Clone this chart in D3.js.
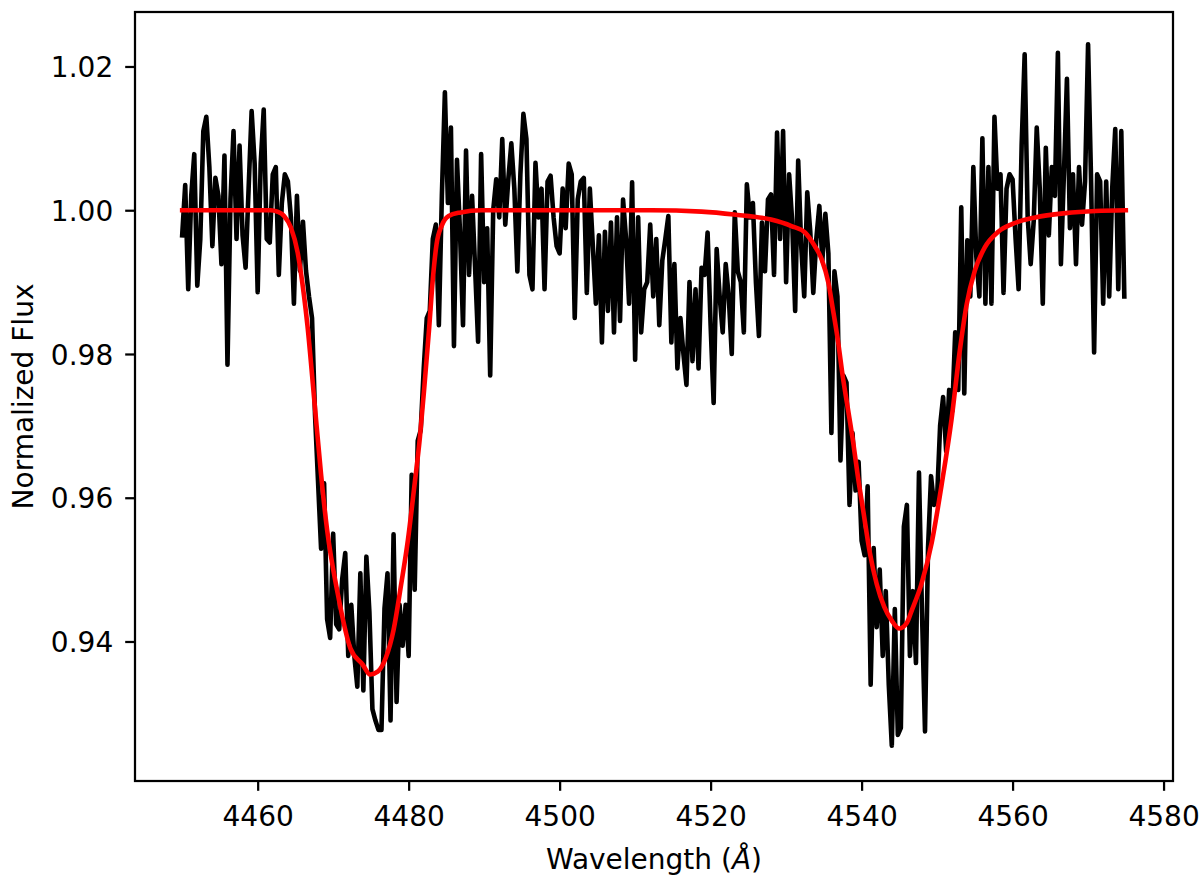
<!DOCTYPE html>
<html><head><meta charset="utf-8">
<script src="https://cdn.jsdelivr.net/npm/d3@7"></script>
<style>html,body{margin:0;padding:0;background:#fff;} svg{display:block;}</style>
</head><body>
<svg id="chart" width="1200" height="884"></svg>
<script>
const waveStart = 4450, waveStep = 0.4;
const flux = [
0.9965,1.0035,0.9890,1.0020,1.0078,0.9895,0.9960,1.0110,1.0130,1.0060,
0.9950,1.0045,1.0020,0.9925,1.0076,0.9785,1.0015,1.0110,0.9960,1.0090,
0.9965,0.9920,1.0030,1.0138,1.0065,0.9886,1.0065,1.0140,0.9960,0.9955,
1.0050,1.0060,0.9910,1.0010,1.0050,1.0040,0.9990,0.9870,1.0020,0.9916,
0.9984,0.9916,0.9880,0.9850,0.9715,0.9622,0.9529,0.9620,0.9431,0.9405,
0.9550,0.9424,0.9417,0.9487,0.9523,0.9380,0.9451,0.9380,0.9337,0.9495,
0.9332,0.9518,0.9441,0.9306,0.9290,0.9277,0.9277,0.9446,0.9495,0.9290,
0.9549,0.9316,0.9451,0.9394,0.9451,0.9380,0.9632,0.9472,0.9679,0.9694,
0.9780,0.9850,0.9860,0.9960,0.9980,0.9840,1.0020,1.0164,1.0010,1.0115,
0.9811,1.0070,0.9970,0.9840,1.0083,0.9910,1.0020,0.9920,0.9817,1.0078,
0.9900,0.9975,0.9770,1.0000,1.0043,0.9990,1.0099,0.9980,1.0043,1.0093,
1.0030,0.9915,1.0050,1.0134,1.0099,0.9910,0.9890,1.0066,0.9990,1.0030,
0.9890,1.0040,1.0048,0.9990,0.9950,0.9940,1.0030,0.9975,1.0065,1.0050,
0.9850,1.0015,1.0040,1.0045,0.9885,1.0030,0.9950,0.9870,0.9965,0.9816,
0.9970,0.9860,0.9983,0.9830,0.9990,0.9846,1.0015,0.9960,0.9870,1.0039,
0.9792,0.9990,0.9830,0.9890,0.9900,0.9980,0.9880,0.9960,0.9840,0.9930,
0.9960,0.9992,0.9816,0.9925,0.9780,0.9850,0.9800,0.9757,0.9900,0.9790,
0.9890,0.9780,0.9920,0.9910,0.9969,0.9840,0.9732,0.9946,0.9880,0.9830,
0.9925,0.9880,0.9800,0.9997,0.9915,0.9900,0.9830,1.0036,0.9990,1.0010,
0.9900,0.9825,0.9983,0.9915,1.0015,1.0022,0.9910,1.0108,0.9960,1.0110,
0.9900,1.0050,0.9985,0.9860,1.0069,0.9950,0.9880,1.0025,0.9970,0.9885,
0.9960,1.0006,0.9930,0.9995,0.9940,0.9690,0.9915,0.9880,0.9652,0.9770,
0.9760,0.9590,0.9690,0.9610,0.9650,0.9540,0.9520,0.9616,0.9340,0.9530,
0.9420,0.9500,0.9380,0.9470,0.9340,0.9255,0.9445,0.9270,0.9280,0.9560,
0.9590,0.9380,0.9470,0.9370,0.9635,0.9440,0.9275,0.9530,0.9630,0.9590,
0.9600,0.9700,0.9740,0.9665,0.9750,0.9720,0.9830,0.9750,1.0004,0.9745,
0.9958,0.9880,1.0060,0.9935,0.9880,1.0100,0.9870,1.0060,0.9870,1.0130,
1.0030,1.0050,0.9885,1.0030,1.0050,1.0043,0.9960,0.9890,1.0090,1.0217,
0.9990,0.9925,0.9985,1.0115,1.0030,0.9870,1.0087,0.9965,1.0060,1.0020,
1.0219,0.9925,1.0050,1.0183,0.9975,1.0050,0.9925,1.0060,0.9980,1.0040,
1.0231,1.0040,0.9802,1.0050,1.0040,0.9870,1.0040,0.9880,1.0030,1.0113,
0.9890,1.0110,0.9880
];

// Fitted model (red curve)
const fitWave = [4450,4455,4460,4461.7,4462.6,4463.5,4464.4,4465.3,4465.7,4466.6,
  4467.5,4468.4,4469.2,4470.6,4472.3,4473.9,4474.9,4475.9,4477.0,4478.0,
  4479.0,4479.9,4480.7,4481.5,4482.1,4482.7,4483.2,4483.7,4484.4,4485.3,
  4486.9,4489.6,4495,4500,4505,4512.1,4518.8,4523.1,4528.0,4530.7,
  4532.5,4533.8,4534.7,4535.6,4536.2,4536.9,4537.5,4538.2,4538.9,4539.5,
  4540.2,4541.1,4542.0,4543.0,4544.0,4545.0,4546.0,4546.6,4547.9,4549.3,
  4550.6,4551.9,4553.0,4553.9,4555.0,4556.3,4558.1,4560.0,4563.0,4567.0,
  4571.0,4575.0];
const fitFlux = [1.0000,1.0000,1.0000,1.0000,0.9998,0.9992,0.9976,0.9941,0.9915,0.9839,
  0.9736,0.9632,0.9555,0.9467,0.9390,0.9368,0.9354,0.9358,0.9378,0.9416,
  0.9479,0.9541,0.9611,0.9685,0.9757,0.9834,0.9904,0.9953,0.9979,0.9992,
  0.9997,1.0000,1.0000,1.0000,1.0000,1.0000,0.9998,0.9994,0.9987,0.9978,
  0.9969,0.9950,0.9932,0.9899,0.9862,0.9816,0.9769,0.9723,0.9676,0.9630,
  0.9583,0.9523,0.9480,0.9448,0.9429,0.9418,0.9426,0.9442,0.9479,0.9538,
  0.9618,0.9708,0.9804,0.9868,0.9916,0.9948,0.9970,0.9981,0.9990,0.9996,
  0.9999,1.0000];

const xTicks = [4460,4480,4500,4520,4540,4560,4580];
const yTicks = [0.94,0.96,0.98,1.00,1.02];
const xDomain = [4443.75, 4581.25];
const yDomain = [0.92059, 1.02758];

const m = {left:135, right:1173, top:12, bottom:781};
const FONT = "'DejaVu Sans', sans-serif";
const svg = d3.select('#chart');
svg.append('rect').attr('width',1200).attr('height',884).attr('fill','#fff');

const x = d3.scaleLinear().domain(xDomain).range([m.left, m.right]);
const y = d3.scaleLinear().domain(yDomain).range([m.bottom, m.top]);

const obs = flux.map((f,i)=>({w: waveStart + waveStep*i, f}));
const fit = fitWave.map((w,i)=>({w, f: fitFlux[i]}));

svg.append('clipPath').attr('id','clip').append('rect')
  .attr('x',m.left).attr('y',m.top).attr('width',m.right-m.left).attr('height',m.bottom-m.top);

const plot = svg.append('g').attr('clip-path','url(#clip)');
plot.append('path').datum(obs)
  .attr('d', d3.line().x(d=>x(d.w)).y(d=>y(d.f)))
  .attr('fill','none').attr('stroke','#000').attr('stroke-width',4.6)
  .attr('stroke-linejoin','round').attr('stroke-linecap','square');
plot.append('path').datum(fit)
  .attr('d', d3.line().curve(d3.curveMonotoneX).x(d=>x(d.w)).y(d=>y(d.f)))
  .attr('fill','none').attr('stroke','#ff0000').attr('stroke-width',4.6)
  .attr('stroke-linejoin','round').attr('stroke-linecap','square');

// axes
const gx = svg.append('g').attr('transform',`translate(0,${m.bottom})`)
  .call(d3.axisBottom(x).tickValues(xTicks).tickSize(9.8).tickSizeOuter(0).tickFormat(d3.format('d')));
gx.select('.domain').remove();
gx.selectAll('.tick line').attr('stroke','#000').attr('stroke-width',2.24);
gx.selectAll('.tick text').attr('y',45).attr('dy',null)
  .attr('font-family',FONT).attr('font-size',28).attr('fill','#000');

const gy = svg.append('g').attr('transform',`translate(${m.left},0)`)
  .call(d3.axisLeft(y).tickValues(yTicks).tickSize(9.8).tickSizeOuter(0).tickFormat(d3.format('.2f')));
gy.select('.domain').remove();
gy.selectAll('.tick line').attr('stroke','#000').attr('stroke-width',2.24);
gy.selectAll('.tick text').attr('x',-21.8).attr('dy','0.36em')
  .attr('font-family',FONT).attr('font-size',28).attr('fill','#000');

// frame
svg.append('rect').attr('x',m.left).attr('y',m.top)
  .attr('width',m.right-m.left).attr('height',m.bottom-m.top)
  .attr('fill','none').attr('stroke','#000').attr('stroke-width',2.24);

// labels
const xl = svg.append('text').attr('x',(m.left+m.right)/2).attr('y',869)
  .attr('text-anchor','middle').attr('font-family',FONT).attr('font-size',28).attr('fill','#000');
xl.append('tspan').text('Wavelength (');
xl.append('tspan').attr('font-style','italic').text('Å');
xl.append('tspan').text(')');

svg.append('text').attr('transform',`translate(33,${(m.top+m.bottom)/2}) rotate(-90)`)
  .attr('text-anchor','middle').attr('font-family',FONT).attr('font-size',28).attr('fill','#000')
  .text('Normalized Flux');
</script>
</body></html>
